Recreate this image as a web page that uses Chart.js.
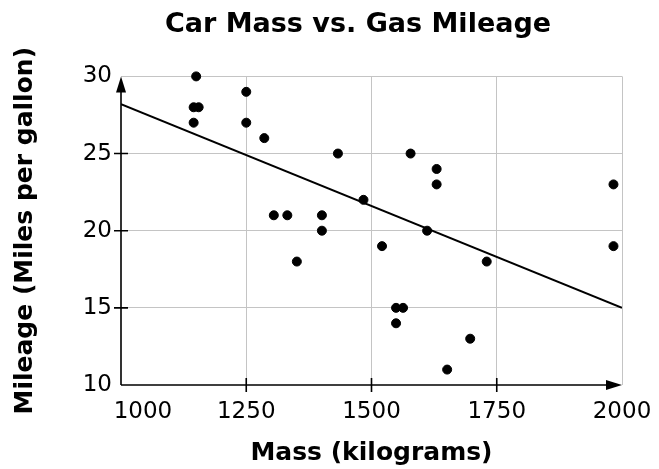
<!DOCTYPE html>
<html>
<head>
<meta charset="utf-8">
<script src="https://cdn.jsdelivr.net/npm/chart.js@4.4.1/dist/chart.umd.min.js"></script>
<style>
  html, body { margin: 0; padding: 0; background: #fff; }
  #wrap { width: 659px; height: 469px; }
</style>
</head>
<body>
<div id="wrap"><canvas id="chart"></canvas></div>
<script>
// car masses (kg) and mileage (mpg)
const massKg = [1150, 1145, 1155, 1145, 1250, 1250, 1286, 1305, 1332, 1351, 1401, 1401, 1433, 1484,
  1521, 1549, 1563, 1549, 1578, 1611, 1630, 1630, 1651, 1697, 1730, 1983, 1983];
const mileage = [30, 28, 28, 27, 29, 27, 26, 21, 21, 18, 21, 20, 25, 22,
  19, 15, 15, 14, 25, 20, 24, 23, 11, 13, 18, 23, 19];

// line of best fit end points
const fitMass = [1000, 2000];
const fitMileage = [28.2, 15];

const xTicks = [1000, 1250, 1500, 1750, 2000];
const yTicks = [10, 15, 20, 25, 30];

const FONT = "'DejaVu Sans', Verdana, sans-serif";

// axis lines with arrows + short ticks crossing the axes
const axesPlugin = {
  id: 'axesArrows',
  beforeDatasetsDraw(chart) {
    const { ctx, chartArea: a, scales: { x, y } } = chart;
    ctx.save();
    ctx.strokeStyle = '#000';
    ctx.fillStyle = '#000';
    ctx.lineWidth = 1.6;
    ctx.beginPath();
    ctx.moveTo(a.left, a.bottom);
    ctx.lineTo(a.left, a.top + 8);
    ctx.moveTo(a.left, a.bottom);
    ctx.lineTo(a.right - 8, a.bottom);
    // ticks
    xTicks.slice(1, -1).forEach(v => {
      const px = x.getPixelForValue(v);
      ctx.moveTo(px, a.bottom - 7);
      ctx.lineTo(px, a.bottom + 7);
    });
    yTicks.slice(1, -1).forEach(v => {
      const py = y.getPixelForValue(v);
      ctx.moveTo(a.left - 7, py);
      ctx.lineTo(a.left + 7, py);
    });
    ctx.stroke();
    // arrow heads
    ctx.beginPath();
    ctx.moveTo(a.left, a.top);
    ctx.lineTo(a.left - 5, a.top + 16);
    ctx.lineTo(a.left + 5, a.top + 16);
    ctx.closePath();
    ctx.fill();
    ctx.beginPath();
    ctx.moveTo(a.right, a.bottom);
    ctx.lineTo(a.right - 16, a.bottom - 5);
    ctx.lineTo(a.right - 16, a.bottom + 5);
    ctx.closePath();
    ctx.fill();
    ctx.restore();
  }
};

const gridColor = (edge) => (c) => (c.tick && c.tick.value === edge ? 'rgba(0,0,0,0)' : '#c4c4c4');

new Chart(document.getElementById('chart'), {
  data: {
    datasets: [
      {
        type: 'scatter',
        data: massKg.map((m, i) => ({ x: m, y: mileage[i] })),
        backgroundColor: '#000',
        borderColor: '#000',
        pointRadius: 4.5,
        pointHoverRadius: 4.5,
        clip: false
      },
      {
        type: 'line',
        data: fitMass.map((m, i) => ({ x: m, y: fitMileage[i] })),
        borderColor: '#000',
        borderWidth: 2,
        pointRadius: 0,
        fill: false
      }
    ]
  },
  options: {
    responsive: true,
    maintainAspectRatio: false,
    animation: false,
    layout: { padding: { left: 0, right: 37, top: 0, bottom: 0 } },
    plugins: {
      legend: { display: false },
      tooltip: { enabled: false },
      title: {
        display: true,
        // leading spaces push the title over the plot, like the original
        text: '          Car Mass vs. Gas Mileage',
        color: '#000',
        font: { family: FONT, size: 27, weight: 'bold' },
        padding: { top: 9, bottom: 35 }
      }
    },
    scales: {
      x: {
        type: 'linear',
        min: 1000,
        max: 2000,
        afterBuildTicks: s => { s.ticks = xTicks.map(v => ({ value: v })); },
        afterFit: s => { s.height = 84; },
        ticks: {
          color: '#000',
          font: { family: FONT, size: 23 },
          padding: 0,
          maxRotation: 0,
          callback: v => (v === 1000 ? '      ' + v : String(v))
        },
        // invisible tick length keeps the labels off the axis
        grid: { color: gridColor(1000), drawTicks: true, tickLength: 13, tickColor: 'rgba(0,0,0,0)', lineWidth: 1 },
        border: { display: false },
        title: {
          display: true,
          text: 'Mass (kilograms)',
          color: '#000',
          font: { family: FONT, size: 25, weight: 'bold' },
          padding: { top: 0, bottom: 1 }
        }
      },
      y: {
        type: 'linear',
        min: 10,
        max: 30,
        afterBuildTicks: s => { s.ticks = yTicks.map(v => ({ value: v })); },
        afterFit: s => { s.width = 121; },
        ticks: {
          color: '#000',
          font: { family: FONT, size: 23 },
          padding: 9
        },
        grid: { color: gridColor(10), drawTicks: false, lineWidth: 1 },
        border: { display: false },
        title: {
          display: true,
          text: 'Mileage (Miles per gallon)',
          color: '#000',
          font: { family: FONT, size: 25, weight: 'bold' },
          padding: { top: 10, bottom: 0 }
        }
      }
    }
  },
  plugins: [axesPlugin]
});
</script>
</body>
</html>
